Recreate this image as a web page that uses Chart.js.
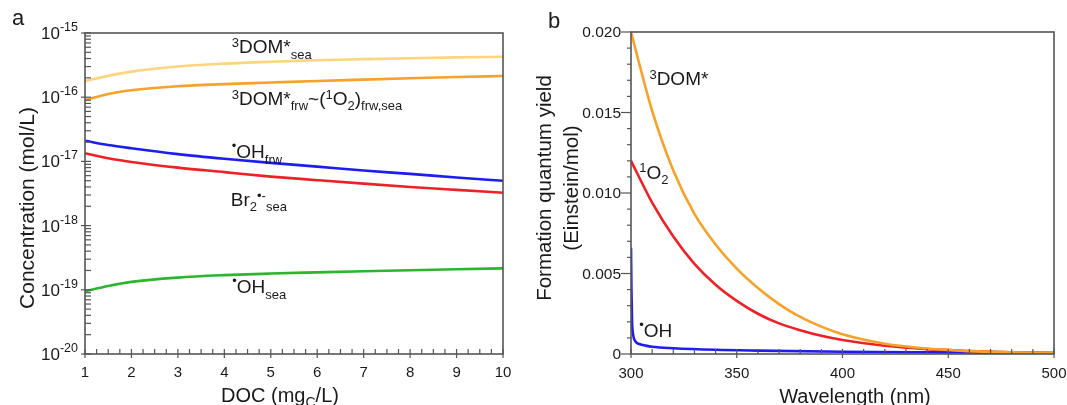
<!DOCTYPE html>
<html>
<head>
<meta charset="utf-8">
<script src="https://cdn.jsdelivr.net/npm/chart.js@4.4.0/dist/chart.umd.min.js"></script>
<style>
  body { margin: 0; background: #fff; width: 1067px; height: 405px; overflow: hidden; position: relative; }
  canvas { position: absolute; top: 0; }
  #ca { left: 0; }
  #cb { left: 530px; }
</style>
</head>
<body>
<canvas id="ca" width="530" height="405"></canvas>
<canvas id="cb" width="537" height="405"></canvas>
<script>
// panel a: steady-state concentrations vs DOC
const docVals = [1, 1.5, 2, 3, 4, 5, 6, 7, 8, 9, 10];
const domSea = [1.78e-16, 2.15e-16, 2.5e-16, 3.0e-16, 3.33e-16, 3.57e-16, 3.77e-16, 3.92e-16, 4.05e-16, 4.17e-16, 4.27e-16];
const domFrw = [9.0e-17, 1.12e-16, 1.28e-16, 1.48e-16, 1.6e-16, 1.69e-16, 1.79e-16, 1.88e-16, 1.97e-16, 2.06e-16, 2.14e-16];
const ohFrw = [2.1e-17, 1.8e-17, 1.6e-17, 1.3e-17, 1.1e-17, 9.5e-18, 8.3e-18, 7.2e-18, 6.4e-18, 5.6e-18, 5.0e-18];
const br2Sea = [1.34e-17, 1.12e-17, 9.8e-18, 8.0e-18, 6.8e-18, 5.8e-18, 5.1e-18, 4.5e-18, 4.0e-18, 3.6e-18, 3.25e-18];
const ohSea = [9.5e-20, 1.15e-19, 1.33e-19, 1.55e-19, 1.69e-19, 1.79e-19, 1.87e-19, 1.95e-19, 2.02e-19, 2.09e-19, 2.16e-19];
const docTicks = [1, 2, 3, 4, 5, 6, 7, 8, 9, 10];
const concExps = [-15, -16, -17, -18, -19, -20];

// panel b: formation quantum yields vs wavelength
const wlVals = [300, 310, 320, 330, 340, 350, 360, 370, 380, 390, 400, 420, 440, 460, 480, 500];
const qyDom = [0.0200, 0.0151, 0.0114, 0.0087, 0.0068, 0.0053, 0.0041, 0.0031, 0.0023, 0.0017, 0.00123, 0.00064, 0.00034, 0.00018, 0.0001, 0.00006];
const qyO2 = [0.0120, 0.0094, 0.0073, 0.0056, 0.0043, 0.0033, 0.0025, 0.0019, 0.00148, 0.00113, 0.00087, 0.00051, 0.0003, 0.00018, 0.0001, 0.00006];
const wlOH = [300, 300.2, 300.5, 301, 302, 304, 307, 310, 320, 340, 360, 400, 450, 500];
const qyOH = [0.0066, 0.0040, 0.0020, 0.0012, 0.0008, 0.00062, 0.00052, 0.00045, 0.00036, 0.00026, 0.00021, 0.00014, 0.0001, 0.00006];
const wlTicks = [300, 350, 400, 450, 500];
const qyTicks = [0.020, 0.015, 0.010, 0.005, 0];
const qyTickText = ['0.020', '0.015', '0.010', '0.005', '0'];

const FONT = '"Liberation Sans", Arial, sans-serif';
const AXIS = '#555';
const TEXT = '#1a1a1a';

function pts(xs, ys) {
  return xs.map((x, i) => ({ x: x, y: ys[i] }));
}

function series(xs, ys, color) {
  return { data: pts(xs, ys), borderColor: color, borderWidth: 2.6, pointRadius: 0, fill: false,
           cubicInterpolationMode: 'monotone' };
}

function tick(ctx, x1, y1, x2, y2) {
  ctx.beginPath();
  ctx.moveTo(x1, y1);
  ctx.lineTo(x2, y2);
  ctx.stroke();
}

// text with superscript / subscript pieces: [text, 'n' | 'sup' | 'sub' | 'dot']
function drawRich(ctx, parts, x, y, o) {
  const size = o.size;
  const small = o.small || Math.round(size * 0.68);
  const off = { n: 0, sup: o.sup !== undefined ? o.sup : -0.32 * size,
                sub: o.sub !== undefined ? o.sub : 0.28 * size, dot: -0.45 * size };
  let w = 0;
  parts.forEach(p => {
    ctx.font = (p[1] === 'n' ? size : small) + 'px ' + FONT;
    w += ctx.measureText(p[0]).width;
  });
  if (o.align === 'right') x -= w;
  else if (o.align === 'center') x -= w / 2;
  ctx.textBaseline = 'alphabetic';
  ctx.textAlign = 'left';
  parts.forEach(p => {
    ctx.font = (p[1] === 'n' ? size : small) + 'px ' + FONT;
    ctx.fillText(p[0], x, y + off[p[1]]);
    x += ctx.measureText(p[0]).width;
  });
}

const labelsA = [
  { x: 4.16, y: 4.83e-16, parts: [['3', 'sup'], ['DOM*', 'n'], ['sea', 'sub']] },
  { x: 4.16, y: 7.57e-17, parts: [['3', 'sup'], ['DOM*', 'n'], ['frw', 'sub'], ['~(', 'n'], ['1', 'sup'], ['O', 'n'], ['2', 'sub'], [')', 'n'], ['frw,sea', 'sub']] },
  { x: 4.16, y: 1.12e-17, parts: [['\u2022', 'dot'], ['OH', 'n'], ['frw', 'sub']] },
  { x: 4.14, y: 2.02e-18, parts: [['Br', 'n'], ['2', 'sub'], ['\u2022-', 'sup'], ['sea', 'sub']] },
  { x: 4.17, y: 8.8e-20, parts: [['\u2022', 'dot'], ['OH', 'n'], ['sea', 'sub']] }
];

const labelsB = [
  { x: 308.7, y: 0.0167, parts: [['3', 'sup'], ['DOM*', 'n']] },
  { x: 303.9, y: 0.0109, parts: [['1', 'sup'], ['O', 'n'], ['2', 'sub']] },
  { x: 303.9, y: 0.00104, parts: [['\u2022', 'dot'], ['OH', 'n']] }
];

const decorA = {
  id: 'decorA',
  afterDraw(chart) {
    const ctx = chart.ctx, a = chart.chartArea, xs = chart.scales.x, ys = chart.scales.y;
    ctx.save();
    ctx.strokeStyle = AXIS;
    ctx.lineWidth = 1.2;
    for (let i = 0; i <= 36; i++) {
      const v = 1 + i * 0.25;
      const px = xs.getPixelForValue(v);
      tick(ctx, px, a.bottom + (i % 4 === 0 ? 4 : 0), px, a.bottom - 5);
    }
    concExps.forEach(e => {
      for (let k = 1; k <= 9; k++) {
        if (e === -15 && k > 1) break;
        const py = ys.getPixelForValue(k * Math.pow(10, e));
        tick(ctx, a.left - (k === 1 ? 4 : 0), py, a.left + 6, py);
      }
    });
    ctx.lineWidth = 1.6;
    ctx.strokeRect(a.left, a.top, a.right - a.left, a.bottom - a.top);

    ctx.fillStyle = TEXT;
    docTicks.forEach(v => drawRich(ctx, [[String(v), 'n']], xs.getPixelForValue(v), 377, { size: 15, align: 'center' }));
    concExps.forEach(e => drawRich(ctx, [['10', 'n'], [String(e), 'sup']], 78, ys.getPixelForValue(Math.pow(10, e)) + 6,
                                   { size: 17, small: 12.5, sup: -8, align: 'right' }));
    labelsA.forEach(l => drawRich(ctx, l.parts, xs.getPixelForValue(l.x), ys.getPixelForValue(l.y), { size: 19, small: 13 }));

    drawRich(ctx, [['DOC (mg', 'n'], ['C', 'sub'], ['/L)', 'n']], 280, 402, { size: 20, small: 14, sub: 5, align: 'center' });
    ctx.save();
    ctx.translate(34, 208);
    ctx.rotate(-Math.PI / 2);
    drawRich(ctx, [['Concentration (mol/L)', 'n']], 0, 0, { size: 21, align: 'center' });
    ctx.restore();
    drawRich(ctx, [['a', 'n']], 12, 25, { size: 22 });
    ctx.restore();
  }
};

const decorB = {
  id: 'decorB',
  afterDraw(chart) {
    const ctx = chart.ctx, a = chart.chartArea, xs = chart.scales.x, ys = chart.scales.y;
    ctx.save();
    ctx.strokeStyle = AXIS;
    ctx.lineWidth = 1.2;
    for (let v = 300; v <= 500; v += 10) {
      const px = xs.getPixelForValue(v);
      tick(ctx, px, a.bottom + (v % 50 === 0 ? 4 : 0), px, a.bottom - 5);
    }
    for (let i = 0; i <= 20; i++) {
      const py = ys.getPixelForValue(i * 0.001);
      tick(ctx, a.left - (i % 5 === 0 ? 10 : 4), py, a.left, py);
    }
    ctx.lineWidth = 1.6;
    ctx.strokeRect(a.left, a.top, a.right - a.left, a.bottom - a.top);

    ctx.fillStyle = TEXT;
    wlTicks.forEach(v => drawRich(ctx, [[String(v), 'n']], xs.getPixelForValue(v), 378, { size: 15, align: 'center' }));
    qyTicks.forEach((v, i) => drawRich(ctx, [[qyTickText[i], 'n']], 91, ys.getPixelForValue(v) + 5, { size: 15.5, align: 'right' }));
    labelsB.forEach(l => drawRich(ctx, l.parts, xs.getPixelForValue(l.x), ys.getPixelForValue(l.y), { size: 19, small: 13 }));

    drawRich(ctx, [['Wavelength (nm)', 'n']], 325, 403, { size: 20, align: 'center' });
    ctx.save();
    ctx.translate(21, 188);
    ctx.rotate(-Math.PI / 2);
    drawRich(ctx, [['Formation quantum yield', 'n']], 0, 0, { size: 20.5, align: 'center' });
    ctx.restore();
    ctx.save();
    ctx.translate(48, 188);
    ctx.rotate(-Math.PI / 2);
    drawRich(ctx, [['(Einstein/mol)', 'n']], 0, 0, { size: 20.5, align: 'center' });
    ctx.restore();
    drawRich(ctx, [['b', 'n']], 18, 28, { size: 22 });
    ctx.restore();
  }
};

new Chart(document.getElementById('ca'), {
  type: 'line',
  data: {
    datasets: [
      series(docVals, domSea, '#fdd57e'),
      series(docVals, domFrw, '#f7a128'),
      series(docVals, ohFrw, '#1d1df2'),
      series(docVals, br2Sea, '#ee2126'),
      series(docVals, ohSea, '#2db52d')
    ]
  },
  options: {
    responsive: false,
    animation: false,
    layout: { padding: { left: 85, top: 33, right: 27, bottom: 51 } },
    plugins: { legend: { display: false }, tooltip: { enabled: false } },
    scales: {
      x: { type: 'linear', min: 1, max: 10, display: false },
      y: { type: 'logarithmic', min: 1e-20, max: 1e-15, display: false }
    }
  },
  plugins: [decorA]
});

new Chart(document.getElementById('cb'), {
  type: 'line',
  data: {
    datasets: [
      series(wlVals, qyDom, '#f7a128'),
      series(wlVals, qyO2, '#ee2126'),
      series(wlOH, qyOH, '#1d1df2')
    ]
  },
  options: {
    responsive: false,
    animation: false,
    layout: { padding: { left: 101, top: 32, right: 13, bottom: 51 } },
    plugins: { legend: { display: false }, tooltip: { enabled: false } },
    scales: {
      x: { type: 'linear', min: 300, max: 500, display: false },
      y: { type: 'linear', min: 0, max: 0.02, display: false }
    }
  },
  plugins: [decorB]
});
</script>
</body>
</html>
